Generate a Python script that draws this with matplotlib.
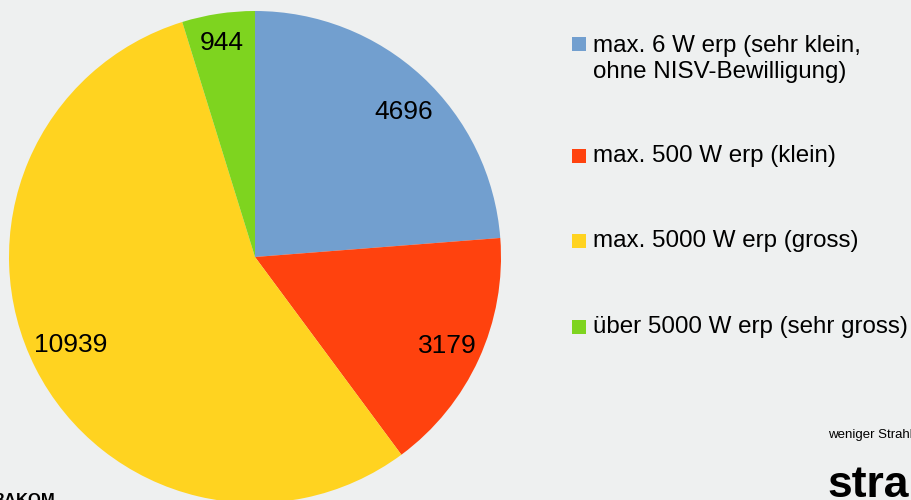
import matplotlib
matplotlib.use('Agg')
import matplotlib.pyplot as plt

plt.rcParams['font.family'] = ['Liberation Sans', 'DejaVu Sans']

# data
labels = ['max. 6 W erp (sehr klein,\nohne NISV-Bewilligung)',
          'max. 500 W erp (klein)',
          'max. 5000 W erp (gross)',
          'über 5000 W erp (sehr gross)']
values = [4696, 3179, 10939, 944]
colors = ['#729fcf', '#ff420e', '#ffd320', '#7ed41f']
bg = '#eef0f0'

# small nudges of the value labels (pixels)
label_nudge = [(5, -10), (0, -1), (4, 8), (-2, 5)]

fig = plt.figure(figsize=(9.12, 5), dpi=100, facecolor=bg)
ax = fig.add_axes([0, 0, 1, 1])
ax.set_facecolor(bg)

wedges, texts = ax.pie(values, colors=colors, startangle=90, counterclock=False,
                       center=(255, 243), radius=246, frame=True,
                       labels=[str(v) for v in values], labeldistance=0.86,
                       wedgeprops=dict(linewidth=0),
                       textprops=dict(fontsize=19, color='black'))
for t, (dx, dy) in zip(texts, label_nudge):
    x, y = t.get_position()
    t.set_position((x + dx, y + dy))
    t.set_ha('center')
    t.set_va('center')

ax.set_xlim(0, 912)
ax.set_ylim(0, 500)
ax.set_aspect('equal')
ax.axis('off')

# legend
leg_y = [456, 344, 259, 173]
for lab, col, y in zip(labels, colors, leg_y):
    ax.scatter([579], [y], marker='s', s=100, color=col, linewidths=0)
    if '\n' in lab:
        ax.text(593, y - 15, lab, fontsize=17.4, va='center', ha='left',
                linespacing=1.2)
    else:
        ax.text(593, y, lab, fontsize=17.4, va='center', ha='left')

# footer bits
ax.text(-7, -5, 'BAKOM', fontsize=12, fontweight='bold', ha='left', va='baseline')
ax.text(828, 65, 'weniger Strahlung', fontsize=9.5, ha='left', va='center')
ax.text(827, 3, 'strahlung', fontsize=32, fontweight='bold', ha='left',
        va='baseline')

fig.savefig('out.png', dpi=100, facecolor=bg)
